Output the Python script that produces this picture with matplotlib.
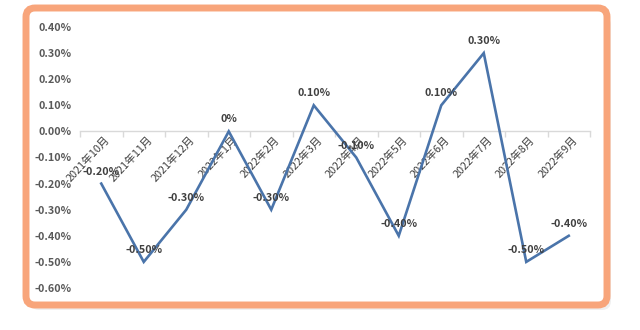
import matplotlib
matplotlib.use("Agg")
import matplotlib.pyplot as plt
from matplotlib.patches import FancyBboxPatch
from matplotlib.transforms import ScaledTranslation
import numpy as np

plt.rcParams['font.family'] = ['Noto Sans CJK SC', 'DejaVu Sans']

categories = ["2021年10月", "2021年11月", "2021年12月", "2022年1月", "2022年2月", "2022年3月",
              "2022年4月", "2022年5月", "2022年6月", "2022年7月", "2022年8月", "2022年9月"]
values = [-0.20, -0.50, -0.30, 0.00, -0.30, 0.10, -0.10, -0.40, 0.10, 0.30, -0.50, -0.40]
data_labels = ["-0.20%", "-0.50%", "-0.30%", "0%", "-0.30%", "0.10%", "-0.10%", "-0.40%",
               "0.10%", "0.30%", "-0.50%", "-0.40%"]
yticks = [0.40, 0.30, 0.20, 0.10, 0.00, -0.10, -0.20, -0.30, -0.40, -0.50, -0.60]

DPI = 100
fig = plt.figure(figsize=(6.4, 3.3), dpi=DPI)
fig.patch.set_facecolor("white")

# shadow + orange rounded border (pixel coords)
shadow = FancyBboxPatch((30, 20), 581, 294, boxstyle="round,pad=0,rounding_size=9",
                        transform=None, facecolor="#000000", edgecolor="none", alpha=0.06, zorder=-2)
fig.patches.append(shadow)
border = FancyBboxPatch((26, 25), 581, 297, boxstyle="round,pad=0,rounding_size=9",
                        transform=None, facecolor="white", edgecolor="#F8A57B", linewidth=5.0, zorder=-1)
fig.patches.append(border)

ax = fig.add_axes([80 / 640, 1 - 288 / 330, 510 / 640, (288 - 27) / 330])
ax.set_facecolor("none")
x = np.arange(len(categories))
ax.plot(x, values, color="#4A74AA", linewidth=1.9, solid_joinstyle="miter", zorder=3)

for xi, v, lab in zip(x, values, data_labels):
    ax.annotate(lab, (xi, v), xytext=(0, 5), textcoords="offset points",
                ha="center", va="bottom", fontsize=7.8, fontweight="bold", color="#404040", zorder=4)

ax.set_xlim(-0.5, len(categories) - 0.5)
ax.set_ylim(-0.60, 0.40)
ax.set_yticks(yticks)
ax.set_yticklabels([f"{t:.2f}%" for t in yticks], fontsize=7.8, fontweight="bold", color="#595959")
ax.tick_params(axis="y", length=0, pad=6)

for s in ["top", "right", "left"]:
    ax.spines[s].set_visible(False)
ax.spines["bottom"].set_position(("data", 0))
ax.spines["bottom"].set_color("#D9D9D9")
ax.spines["bottom"].set_linewidth(1.0)

ax.set_xticks(x)
ax.set_xticklabels(categories, rotation=47, ha="right", va="center", rotation_mode="anchor",
                   fontsize=7.8, color="#404040")
ax.set_xticks(np.arange(-0.5, len(categories), 1.0), minor=True)
ax.tick_params(axis="x", which="major", length=0, pad=5)
ax.tick_params(axis="x", which="minor", length=4, color="#D9D9D9", width=1.0, direction="out")
offset = ScaledTranslation(7 / DPI, 0, fig.dpi_scale_trans)
for lbl in ax.get_xticklabels():
    lbl.set_transform(lbl.get_transform() + offset)

fig.savefig("out.png", dpi=DPI)
